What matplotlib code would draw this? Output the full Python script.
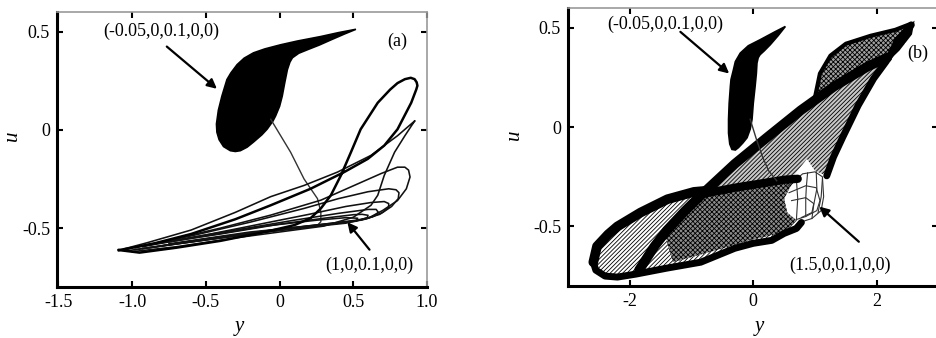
import matplotlib
matplotlib.use("Agg")
import matplotlib.pyplot as plt

plt.rcParams['font.family'] = ['Liberation Serif', 'DejaVu Serif']
plt.rcParams['axes.unicode_minus'] = False
plt.rcParams['hatch.linewidth'] = 0.6

# ---------------- panel (a): trajectories in the (y, u) plane ----------------
a_xticks = [-1.5, -1.0, -0.5, 0, 0.5, 1.0]
a_xticklabels = ['-1.5', '-1.0', '-0.5', '0', '0.5', '1.0']
a_yticks = [-0.5, 0, 0.5]
a_yticklabels = ['-0.5', '0', '0.5']

# attractor reached from (-0.05,0,0.1,0,0): densely filled region
blob_a_y = [0.518, 0.40, 0.279, 0.12, 0.007, -0.10, -0.177, -0.24, -0.288, -0.33, -0.357,
            -0.391, -0.415, -0.428, -0.425, -0.41, -0.38, -0.334, -0.30, -0.266, -0.22,
            -0.177, -0.12, -0.084, -0.045, -0.027, 0.0, 0.018, 0.035, 0.053, 0.07, 0.087,
            0.13, 0.189, 0.27, 0.348, 0.44, 0.518]
blob_a_u = [0.512, 0.495, 0.475, 0.452, 0.433, 0.412, 0.392, 0.365, 0.332, 0.29, 0.256,
            0.172, 0.10, 0.03, -0.012, -0.05, -0.085, -0.106, -0.11, -0.106, -0.088,
            -0.062, -0.025, 0.004, 0.045, 0.071, 0.12, 0.172, 0.24, 0.307, 0.345, 0.367,
            0.39, 0.408, 0.432, 0.458, 0.488, 0.512]

# transient leaving the upper attractor
link_a_y = [-0.06, 0.075, 0.166, 0.257, 0.28, 0.28, 0.25]
link_a_u = [0.054, -0.114, -0.25, -0.35, -0.417, -0.468, -0.49]

# loops of the trajectory started at (1,0,0.1,0,0)
loop1_y = [-1.09, -0.95, -0.7, -0.4, -0.1, 0.1, 0.21, 0.28, 0.348, 0.416, 0.484, 0.55, 0.666,
           0.75, 0.80, 0.85, 0.89, 0.916, 0.93, 0.935, 0.927, 0.893, 0.80, 0.71, 0.598, 0.438,
           0.21, -0.06, -0.3, -0.6, -0.85, -1.0, -1.09]
loop1_u = [-0.612, -0.625, -0.60, -0.565, -0.52, -0.485, -0.45, -0.40, -0.333, -0.232, -0.114,
           0.003, 0.138, 0.205, 0.238, 0.258, 0.265, 0.258, 0.242, 0.225, 0.205, 0.138, 0.003,
           -0.08, -0.148, -0.215, -0.30, -0.384, -0.455, -0.53, -0.578, -0.60, -0.612]

start_y = [0.916, 0.80, 0.62, 0.393, 0.166, -0.06, -0.3, -0.6, -0.9, -1.05, -1.0, -0.7, -0.3,
           0.1, 0.3, 0.5, 0.62, 0.666, 0.71, 0.78, 0.85, 0.916]
start_u = [0.045, -0.03, -0.13, -0.215, -0.283, -0.34, -0.42, -0.51, -0.575, -0.605, -0.62,
           -0.595, -0.55, -0.51, -0.49, -0.445, -0.384, -0.333, -0.232, -0.114, -0.03, 0.045]

loop3_y = [-1.03, -0.6, -0.2, 0.2, 0.45, 0.6, 0.70, 0.80, 0.86, 0.885, 0.875, 0.85, 0.80,
           0.69, 0.506, 0.28, -0.06, -0.4, -0.8, -1.03]
loop3_u = [-0.615, -0.57, -0.53, -0.495, -0.475, -0.45, -0.41, -0.36, -0.30, -0.24, -0.205,
           -0.19, -0.19, -0.222, -0.283, -0.358, -0.434, -0.5, -0.57, -0.605]

loop4_y = [-0.98, -0.5, -0.1, 0.3, 0.55, 0.68, 0.76, 0.805, 0.81, 0.79, 0.74, 0.6, 0.4,
           0.166, -0.2, -0.6, -0.98]
loop4_u = [-0.61, -0.56, -0.52, -0.485, -0.46, -0.43, -0.39, -0.35, -0.32, -0.305, -0.30,
           -0.315, -0.35, -0.40, -0.47, -0.54, -0.60]

loop5_y = [-0.93, -0.5, -0.1, 0.3, 0.52, 0.62, 0.70, 0.74, 0.74, 0.71, 0.62, 0.45, 0.2,
           -0.2, -0.6, -0.93]
loop5_u = [-0.605, -0.555, -0.515, -0.48, -0.46, -0.445, -0.42, -0.395, -0.375, -0.365,
           -0.37, -0.39, -0.43, -0.49, -0.55, -0.595]

loop6_y = [-0.88, -0.3, 0.1, 0.4, 0.58, 0.64, 0.67, 0.655, 0.6, 0.4, 0.1, -0.3, -0.7, -0.88]
loop6_u = [-0.60, -0.54, -0.50, -0.475, -0.455, -0.44, -0.42, -0.405, -0.405, -0.425, -0.46,
           -0.51, -0.56, -0.585]

loop7_y = [-0.8, -0.4, 0.0, 0.3, 0.5, 0.55, 0.595, 0.60, 0.56, 0.5, 0.3, 0.0, -0.4, -0.8]
loop7_u = [-0.59, -0.545, -0.505, -0.48, -0.465, -0.458, -0.447, -0.435, -0.43, -0.432,
           -0.45, -0.48, -0.53, -0.575]

loop8_y = [-0.75, -0.2, 0.2, 0.4, 0.52, 0.53, 0.45, 0.25, -0.1, -0.5, -0.75]
loop8_u = [-0.58, -0.52, -0.49, -0.475, -0.465, -0.45, -0.447, -0.46, -0.49, -0.54, -0.57]

# ---------------- panel (b) ----------------
b_xticks = [-2, 0, 2]
b_xticklabels = ['-2', '0', '2']
b_yticks = [-0.5, 0, 0.5]
b_yticklabels = ['-0.5', '0', '0.5']

blob_b_y = [0.52, 0.35, 0.11, -0.08, -0.21, -0.29, -0.32, -0.36, -0.37, -0.39, -0.40, -0.40,
            -0.38, -0.345, -0.29, -0.24, -0.17, -0.10, -0.05, -0.02, 0.0, 0.03, 0.05, 0.06,
            0.08, 0.11, 0.18, 0.275, 0.40, 0.52]
blob_b_u = [0.507, 0.48, 0.44, 0.41, 0.373, 0.33, 0.29, 0.24, 0.206, 0.12, 0.039, -0.03,
            -0.085, -0.112, -0.115, -0.103, -0.08, -0.053, -0.01, 0.039, 0.12, 0.206, 0.27,
            0.323, 0.35, 0.365, 0.385, 0.415, 0.46, 0.507]

link_b_y = [-0.05, 0.05, 0.15, 0.25, 0.38]
link_b_u = [0.04, -0.06, -0.15, -0.22, -0.27]

# lower lobe of the attractor from (1.5,0,0.1,0,0)
lobe_top_y = [-2.59, -2.53, -2.35, -2.20, -1.825, -1.39, -0.96, -0.745]
lobe_top_u = [-0.68, -0.60, -0.54, -0.50, -0.43, -0.363, -0.326, -0.32]
lobe_notch_y = [0.72, 0.6, 0.5, 0.55, 0.7]
lobe_notch_u = [-0.26, -0.30, -0.36, -0.43, -0.47]
lobe_bot_y = [0.78, 0.7, 0.5, 0.3, 0.0, -0.3, -0.85, -1.4, -1.9, -2.2, -2.4, -2.55, -2.59]
lobe_bot_u = [-0.48, -0.51, -0.535, -0.57, -0.585, -0.61, -0.68, -0.71, -0.74, -0.755,
              -0.75, -0.72, -0.68]

core_b_y = [-1.45, -0.75, 0.0, 0.7, 0.6, 0.5, 0.55, 0.7, 0.5, 0.0, -0.6, -1.3]
core_b_u = [-0.52, -0.33, -0.29, -0.26, -0.30, -0.36, -0.43, -0.47, -0.53, -0.565, -0.62, -0.68]

fan_b_y = [-0.75, 0.0, 0.6, 0.87, 0.87, 0.23, -0.3]
fan_b_u = [-0.32, -0.29, -0.265, -0.16, 0.10, -0.05, -0.185]

strip_b_y = [0.87, 0.87, 1.0, 1.19, 1.45, 1.7, 1.95, 2.1, 1.85, 1.31]
strip_b_u = [0.10, -0.16, -0.22, -0.245, -0.05, 0.12, 0.25, 0.33, 0.305, 0.205]

upper_b_y = [1.0, 1.1, 1.3, 1.6, 2.0, 2.4, 2.58, 2.55, 2.3, 2.1, 1.85, 1.31]
upper_b_u = [0.14, 0.27, 0.37, 0.43, 0.47, 0.5, 0.52, 0.47, 0.40, 0.33, 0.305, 0.205]
tip_b_y = [2.3, 2.45, 2.58, 2.55, 2.35, 2.15]
tip_b_u = [0.44, 0.49, 0.52, 0.47, 0.39, 0.33]

diag_b_y = [-1.85, -1.6, -1.4, -1.1, -0.82, -0.3, 0.23, 0.77, 1.31, 1.85, 2.17]
diag_b_u = [-0.72, -0.60, -0.52, -0.42, -0.335, -0.185, -0.05, 0.085, 0.205, 0.305, 0.35]

flat_b_y = [-0.8, -0.3, 0.2, 0.5, 0.72]
flat_b_u = [-0.335, -0.305, -0.28, -0.265, -0.26]

edge_b_y = [1.19, 1.3, 1.45, 1.7, 1.95, 2.15, 2.35, 2.5, 2.56]
edge_b_u = [-0.245, -0.15, -0.05, 0.11, 0.245, 0.33, 0.43, 0.49, 0.515]

rim_b_y = [1.0, 1.08, 1.25, 1.5, 1.9, 2.3, 2.55]
rim_b_u = [0.15, 0.27, 0.36, 0.42, 0.46, 0.49, 0.52]

wire_b = [
    ([0.55, 0.8, 1.0, 1.12, 1.14, 1.1, 0.95, 0.75], [-0.30, -0.235, -0.225, -0.25, -0.35, -0.42, -0.46, -0.48]),
    ([0.58, 0.85, 1.02, 1.08, 1.03, 0.85, 0.7], [-0.33, -0.295, -0.305, -0.37, -0.42, -0.45, -0.465]),
    ([0.62, 0.85, 0.98, 0.95, 0.78], [-0.37, -0.355, -0.385, -0.43, -0.455]),
    ([0.88, 0.86, 0.85, 0.85], [-0.23, -0.30, -0.36, -0.45]),
    ([1.02, 1.03, 0.98, 0.95], [-0.225, -0.31, -0.39, -0.46]),
    ([1.12, 1.1, 1.05], [-0.26, -0.35, -0.43]),
    ([0.7, 0.72, 0.70], [-0.27, -0.36, -0.46]),
]


def style_axes(ax, xlim, xticks, xticklabels, yticks, yticklabels):
    ax.set_xlim(*xlim)
    ax.set_ylim(-0.8, 0.6)
    ax.set_xticks(xticks)
    ax.set_xticklabels(xticklabels)
    ax.set_yticks(yticks)
    ax.set_yticklabels(yticklabels)
    ax.tick_params(direction='in', length=4, width=1.5, top=True, right=True,
                   labelsize=13, pad=5)
    for side in ['left', 'bottom']:
        ax.spines[side].set_linewidth(2.2)
    for side in ['top', 'right']:
        ax.spines[side].set_linewidth(1.2)
        ax.spines[side].set_color('#999999')
    ax.set_xlabel('y', fontsize=15, style='italic')
    ax.set_ylabel('u', fontsize=15, style='italic')


def arrow(ax, head, tail):
    ax.annotate('', xy=head, xytext=tail,
                arrowprops=dict(arrowstyle='-|>', color='black', lw=1.6,
                                mutation_scale=14, shrinkA=0, shrinkB=0))


fig = plt.figure(figsize=(9.37, 3.38), dpi=100)
ax_a = fig.add_axes([0.0608, 0.1509, 0.3949, 0.8136])
ax_b = fig.add_axes([0.6062, 0.1538, 0.3954, 0.8225])

# ----- (a)
ax_a.fill(blob_a_y, blob_a_u, color='black', lw=1.2)
ax_a.plot(link_a_y, link_a_u, color='#333333', lw=1.0)
for ly, lu in [(loop3_y, loop3_u), (loop4_y, loop4_u), (loop5_y, loop5_u),
               (loop6_y, loop6_u), (loop7_y, loop7_u), (loop8_y, loop8_u),
               (start_y, start_u)]:
    ax_a.plot(ly, lu, color='#111111', lw=1.15)
ax_a.plot(loop1_y, loop1_u, color='black', lw=1.8)

ax_a.text(-0.80, 0.503, '(-0.05,0,0.1,0,0)', fontsize=13, ha='center', va='center')
arrow(ax_a, (-0.425, 0.209), (-0.765, 0.424))
ax_a.text(0.80, 0.45, '(a)', fontsize=13, ha='center', va='center')
ax_a.text(0.61, -0.69, '(1,0,0.1,0,0)', fontsize=13, ha='center', va='center')
arrow(ax_a, (0.46, -0.47), (0.61, -0.61))

style_axes(ax_a, (-1.51, 1.0), a_xticks, a_xticklabels, a_yticks, a_yticklabels)
ax_a.xaxis.set_label_coords(0.492, -0.11)
ax_a.yaxis.set_label_coords(-0.095, 0.55)

# ----- (b)
lobe_y = lobe_top_y + flat_b_y + lobe_notch_y + lobe_bot_y
lobe_u = lobe_top_u + flat_b_u + lobe_notch_u + lobe_bot_u
ax_b.fill(lobe_y, lobe_u, facecolor='white', edgecolor='black', lw=0, hatch='////////')
ax_b.fill(core_b_y, core_b_u, facecolor='#8c8c8c', edgecolor='black', lw=0, hatch='xxxxxxx')
ax_b.fill(fan_b_y, fan_b_u, facecolor='#c8c8c8', edgecolor='black', lw=0, hatch='////////')
ax_b.fill(strip_b_y, strip_b_u, facecolor='#c8c8c8', edgecolor='black', lw=0, hatch='////////')
ax_b.fill(upper_b_y, upper_b_u, facecolor='#a0a0a0', edgecolor='black', lw=0, hatch='xxxxxxx')
for wy, wu in wire_b:
    ax_b.plot(wy, wu, color='#333333', lw=0.8)
ax_b.plot(lobe_top_y, lobe_top_u, color='black', lw=7, solid_capstyle='round')
ax_b.plot(lobe_bot_y, lobe_bot_u, color='black', lw=5, solid_capstyle='round')
ax_b.plot(diag_b_y, diag_b_u, color='black', lw=7, solid_capstyle='round')
ax_b.plot(flat_b_y, flat_b_u, color='black', lw=6, solid_capstyle='round')
ax_b.plot(edge_b_y, edge_b_u, color='black', lw=5, solid_capstyle='round')
ax_b.plot(rim_b_y, rim_b_u, color='black', lw=3, solid_capstyle='round')
ax_b.fill(tip_b_y, tip_b_u, color='black', lw=2)
ax_b.plot(link_b_y, link_b_u, color='#333333', lw=1.0)
ax_b.fill(blob_b_y, blob_b_u, color='black', lw=1.2)

ax_b.text(-1.43, 0.52, '(-0.05,0,0.1,0,0)', fontsize=13, ha='center', va='center')
arrow(ax_b, (-0.39, 0.27), (-1.18, 0.48))
ax_b.text(2.66, 0.37, '(b)', fontsize=13, ha='center', va='center',
          bbox=dict(facecolor='white', edgecolor='none', pad=1.5))
ax_b.text(1.41, -0.695, '(1.5,0,0.1,0,0)', fontsize=13, ha='center', va='center')
arrow(ax_b, (1.07, -0.40), (1.71, -0.577))

style_axes(ax_b, (-3.0, 3.0), b_xticks, b_xticklabels, b_yticks, b_yticklabels)
ax_b.xaxis.set_label_coords(0.516, -0.11)
ax_b.yaxis.set_label_coords(-0.12, 0.543)

fig.savefig('out.png', dpi=100)
